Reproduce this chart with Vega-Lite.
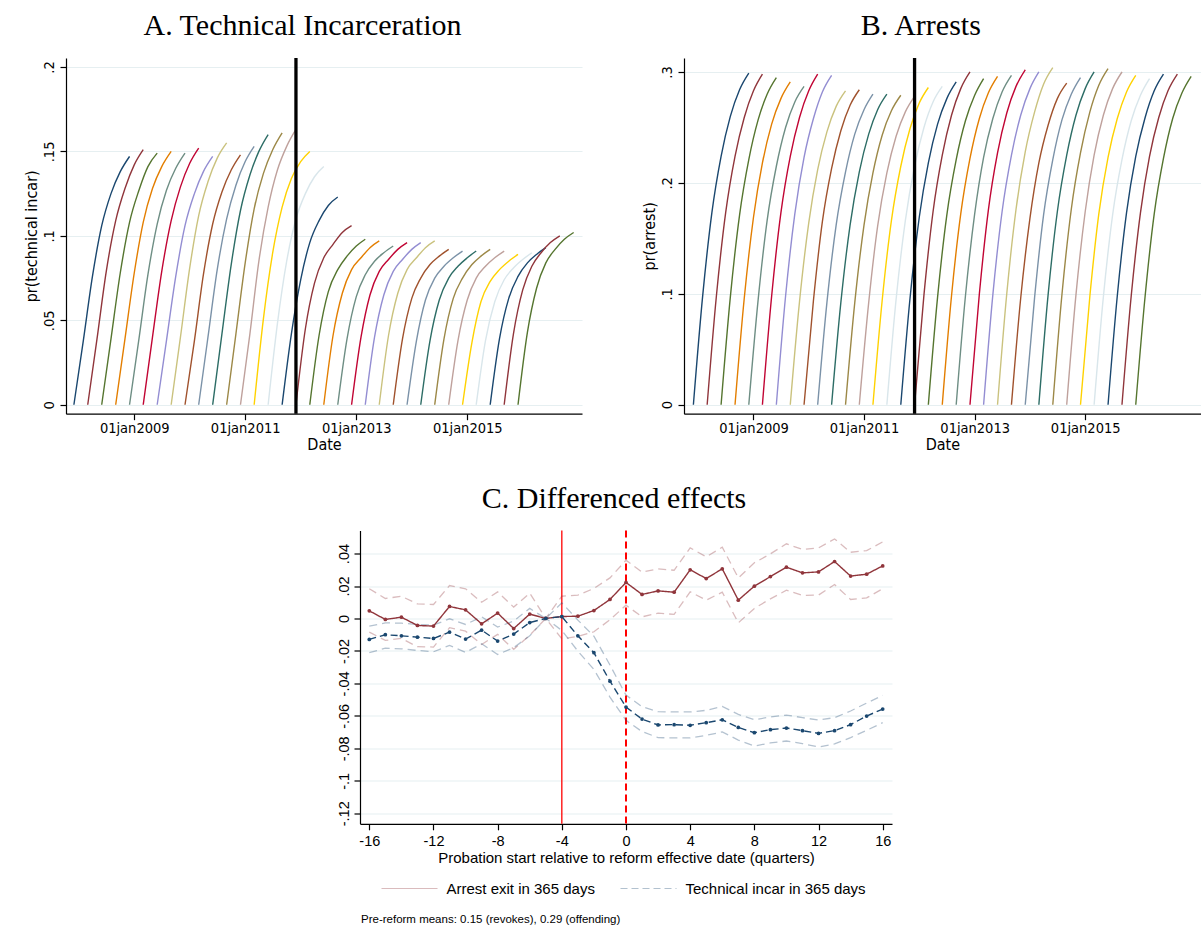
{
"$schema":"https://vega.github.io/schema/vega-lite/v6.json",
"background":"white",
"padding":{"left":23,"top":10,"right":0,"bottom":0},
"config":{
 "view":{"stroke":null},
 "axis":{"domainColor":"black","tickColor":"black","labelColor":"black","titleColor":"black","titleFontWeight":"normal","gridColor":"#e6eff1","gridWidth":1.2,"domainWidth":1.2,"tickWidth":1.2,"labelOverlap":false},
 "title":{"font":"Liberation Serif","fontSize":30,"fontWeight":"normal","color":"black","anchor":"middle","frame":"bounds"}
},
"datasets":{
"cur":[
{"c":0,"d":"2007/12/01","a":0,"b":0},{"c":0,"d":"2008/02/01","a":0.038,"b":0.099},{"c":0,"d":"2008/04/01","a":0.076,"b":0.173},{"c":0,"d":"2008/06/01","a":0.106,"b":0.224},{"c":0,"d":"2008/08/01","a":0.125,"b":0.260},{"c":0,"d":"2008/10/01","a":0.138,"b":0.284},{"c":0,"d":"2008/12/01","a":0.147,"b":0.299},
{"c":1,"d":"2008/03/01","a":0,"b":0},{"c":1,"d":"2008/05/01","a":0.039,"b":0.098},{"c":1,"d":"2008/07/01","a":0.079,"b":0.173},{"c":1,"d":"2008/09/01","a":0.109,"b":0.224},{"c":1,"d":"2008/11/01","a":0.128,"b":0.259},{"c":1,"d":"2009/01/01","a":0.142,"b":0.283},{"c":1,"d":"2009/03/01","a":0.151,"b":0.298},
{"c":2,"d":"2008/06/01","a":0,"b":0},{"c":2,"d":"2008/08/01","a":0.039,"b":0.097},{"c":2,"d":"2008/10/01","a":0.078,"b":0.171},{"c":2,"d":"2008/12/01","a":0.108,"b":0.221},{"c":2,"d":"2009/02/01","a":0.127,"b":0.257},{"c":2,"d":"2009/04/01","a":0.141,"b":0.280},{"c":2,"d":"2009/06/01","a":0.149,"b":0.295},
{"c":3,"d":"2008/09/01","a":0,"b":0},{"c":3,"d":"2008/11/01","a":0.039,"b":0.096},{"c":3,"d":"2009/01/01","a":0.078,"b":0.169},{"c":3,"d":"2009/03/01","a":0.108,"b":0.218},{"c":3,"d":"2009/05/01","a":0.128,"b":0.253},{"c":3,"d":"2009/07/01","a":0.141,"b":0.276},{"c":3,"d":"2009/09/01","a":0.150,"b":0.291},
{"c":4,"d":"2008/12/01","a":0,"b":0},{"c":4,"d":"2009/02/01","a":0.039,"b":0.095},{"c":4,"d":"2009/04/01","a":0.077,"b":0.166},{"c":4,"d":"2009/06/01","a":0.107,"b":0.215},{"c":4,"d":"2009/08/01","a":0.127,"b":0.250},{"c":4,"d":"2009/10/01","a":0.140,"b":0.273},{"c":4,"d":"2009/12/01","a":0.149,"b":0.287},
{"c":5,"d":"2009/03/01","a":0,"b":0},{"c":5,"d":"2009/05/01","a":0.040,"b":0.098},{"c":5,"d":"2009/07/01","a":0.079,"b":0.173},{"c":5,"d":"2009/09/01","a":0.109,"b":0.224},{"c":5,"d":"2009/11/01","a":0.129,"b":0.259},{"c":5,"d":"2010/01/01","a":0.143,"b":0.283},{"c":5,"d":"2010/03/01","a":0.152,"b":0.298},
{"c":6,"d":"2009/06/01","a":0,"b":0},{"c":6,"d":"2009/08/01","a":0.038,"b":0.098},{"c":6,"d":"2009/10/01","a":0.076,"b":0.172},{"c":6,"d":"2009/12/01","a":0.106,"b":0.223},{"c":6,"d":"2010/02/01","a":0.125,"b":0.258},{"c":6,"d":"2010/04/01","a":0.138,"b":0.282},{"c":6,"d":"2010/06/01","a":0.147,"b":0.297},
{"c":7,"d":"2009/09/01","a":0,"b":0},{"c":7,"d":"2009/11/01","a":0.040,"b":0.093},{"c":7,"d":"2010/01/01","a":0.081,"b":0.164},{"c":7,"d":"2010/03/01","a":0.112,"b":0.212},{"c":7,"d":"2010/05/01","a":0.132,"b":0.246},{"c":7,"d":"2010/07/01","a":0.146,"b":0.269},{"c":7,"d":"2010/09/01","a":0.155,"b":0.283},
{"c":8,"d":"2009/12/01","a":0,"b":0},{"c":8,"d":"2010/02/01","a":0.038,"b":0.094},{"c":8,"d":"2010/04/01","a":0.077,"b":0.165},{"c":8,"d":"2010/06/01","a":0.107,"b":0.213},{"c":8,"d":"2010/08/01","a":0.126,"b":0.247},{"c":8,"d":"2010/10/01","a":0.139,"b":0.270},{"c":8,"d":"2010/12/01","a":0.148,"b":0.284},
{"c":9,"d":"2010/03/01","a":0,"b":0},{"c":9,"d":"2010/05/01","a":0.040,"b":0.092},{"c":9,"d":"2010/07/01","a":0.080,"b":0.162},{"c":9,"d":"2010/09/01","a":0.110,"b":0.210},{"c":9,"d":"2010/11/01","a":0.130,"b":0.244},{"c":9,"d":"2011/01/01","a":0.144,"b":0.266},{"c":9,"d":"2011/03/01","a":0.153,"b":0.280},
{"c":10,"d":"2010/06/01","a":0,"b":0},{"c":10,"d":"2010/08/01","a":0.042,"b":0.092},{"c":10,"d":"2010/10/01","a":0.083,"b":0.162},{"c":10,"d":"2010/12/01","a":0.115,"b":0.210},{"c":10,"d":"2011/02/01","a":0.136,"b":0.244},{"c":10,"d":"2011/04/01","a":0.150,"b":0.266},{"c":10,"d":"2011/06/01","a":0.160,"b":0.280},
{"c":11,"d":"2010/09/01","a":0,"b":0},{"c":11,"d":"2010/11/01","a":0.042,"b":0.092},{"c":11,"d":"2011/01/01","a":0.084,"b":0.162},{"c":11,"d":"2011/03/01","a":0.116,"b":0.209},{"c":11,"d":"2011/05/01","a":0.137,"b":0.243},{"c":11,"d":"2011/07/01","a":0.151,"b":0.265},{"c":11,"d":"2011/09/01","a":0.161,"b":0.279},
{"c":12,"d":"2010/12/01","a":0,"b":0},{"c":12,"d":"2011/02/01","a":0.042,"b":0.092},{"c":12,"d":"2011/04/01","a":0.085,"b":0.161},{"c":12,"d":"2011/06/01","a":0.117,"b":0.209},{"c":12,"d":"2011/08/01","a":0.139,"b":0.242},{"c":12,"d":"2011/10/01","a":0.153,"b":0.264},{"c":12,"d":"2011/12/01","a":0.163,"b":0.278},
{"c":13,"d":"2011/03/01","a":0,"b":0},{"c":13,"d":"2011/05/01","a":0.051,"b":0.094},{"c":13,"d":"2011/07/01","a":0.090,"b":0.166},{"c":13,"d":"2011/09/01","a":0.117,"b":0.215},{"c":13,"d":"2011/11/01","a":0.134,"b":0.249},{"c":13,"d":"2012/01/01","a":0.144,"b":0.272},{"c":13,"d":"2012/03/01","a":0.150,"b":0.286},
{"c":14,"d":"2011/06/01","a":0,"b":0},{"c":14,"d":"2011/08/01","a":0.048,"b":0.095},{"c":14,"d":"2011/10/01","a":0.085,"b":0.166},{"c":14,"d":"2011/12/01","a":0.110,"b":0.215},{"c":14,"d":"2012/02/01","a":0.125,"b":0.250},{"c":14,"d":"2012/04/01","a":0.135,"b":0.273},{"c":14,"d":"2012/06/01","a":0.141,"b":0.287},
{"c":15,"d":"2011/09/01","a":0,"b":0},{"c":15,"d":"2011/11/01","a":0.042,"b":0.096},{"c":15,"d":"2012/01/01","a":0.074,"b":0.169},{"c":15,"d":"2012/03/01","a":0.096,"b":0.218},{"c":15,"d":"2012/05/01","a":0.109,"b":0.253},{"c":15,"d":"2012/07/01","a":0.118,"b":0.276},{"c":15,"d":"2012/09/01","a":0.123,"b":0.291},
{"c":16,"d":"2011/12/01","a":0,"b":0},{"c":16,"d":"2012/02/01","a":0.045,"b":0.099},{"c":16,"d":"2012/04/01","a":0.072,"b":0.174},{"c":16,"d":"2012/06/01","a":0.087,"b":0.225},{"c":16,"d":"2012/08/01","a":0.095,"b":0.261},{"c":16,"d":"2012/10/01","a":0.102,"b":0.285},{"c":16,"d":"2012/12/01","a":0.106,"b":0.300},
{"c":17,"d":"2012/03/01","a":0,"b":0},{"c":17,"d":"2012/05/01","a":0.041,"b":0.097},{"c":17,"d":"2012/07/01","a":0.067,"b":0.171},{"c":17,"d":"2012/09/01","a":0.080,"b":0.221},{"c":17,"d":"2012/11/01","a":0.088,"b":0.256},{"c":17,"d":"2013/01/01","a":0.094,"b":0.279},{"c":17,"d":"2013/03/01","a":0.098,"b":0.294},
{"c":18,"d":"2012/06/01","a":0,"b":0},{"c":18,"d":"2012/08/01","a":0.041,"b":0.098},{"c":18,"d":"2012/10/01","a":0.066,"b":0.172},{"c":18,"d":"2012/12/01","a":0.080,"b":0.222},{"c":18,"d":"2013/02/01","a":0.087,"b":0.258},{"c":18,"d":"2013/04/01","a":0.093,"b":0.281},{"c":18,"d":"2013/06/01","a":0.097,"b":0.296},
{"c":19,"d":"2012/09/01","a":0,"b":0},{"c":19,"d":"2012/11/01","a":0.039,"b":0.098},{"c":19,"d":"2013/01/01","a":0.064,"b":0.172},{"c":19,"d":"2013/03/01","a":0.077,"b":0.223},{"c":19,"d":"2013/05/01","a":0.085,"b":0.258},{"c":19,"d":"2013/07/01","a":0.090,"b":0.282},{"c":19,"d":"2013/09/01","a":0.094,"b":0.297},
{"c":20,"d":"2012/12/01","a":0,"b":0},{"c":20,"d":"2013/02/01","a":0.040,"b":0.100},{"c":20,"d":"2013/04/01","a":0.065,"b":0.175},{"c":20,"d":"2013/06/01","a":0.079,"b":0.227},{"c":20,"d":"2013/08/01","a":0.086,"b":0.263},{"c":20,"d":"2013/10/01","a":0.092,"b":0.287},{"c":20,"d":"2013/12/01","a":0.096,"b":0.302},
{"c":21,"d":"2013/03/01","a":0,"b":0},{"c":21,"d":"2013/05/01","a":0.040,"b":0.099},{"c":21,"d":"2013/07/01","a":0.065,"b":0.174},{"c":21,"d":"2013/09/01","a":0.079,"b":0.225},{"c":21,"d":"2013/11/01","a":0.086,"b":0.261},{"c":21,"d":"2014/01/01","a":0.092,"b":0.285},{"c":21,"d":"2014/03/01","a":0.096,"b":0.300},
{"c":22,"d":"2013/06/01","a":0,"b":0},{"c":22,"d":"2013/08/01","a":0.041,"b":0.100},{"c":22,"d":"2013/10/01","a":0.066,"b":0.176},{"c":22,"d":"2013/12/01","a":0.080,"b":0.228},{"c":22,"d":"2014/02/01","a":0.087,"b":0.264},{"c":22,"d":"2014/04/01","a":0.093,"b":0.289},{"c":22,"d":"2014/06/01","a":0.097,"b":0.304},
{"c":23,"d":"2013/09/01","a":0,"b":0},{"c":23,"d":"2013/11/01","a":0.039,"b":0.096},{"c":23,"d":"2014/01/01","a":0.063,"b":0.168},{"c":23,"d":"2014/03/01","a":0.075,"b":0.218},{"c":23,"d":"2014/05/01","a":0.083,"b":0.252},{"c":23,"d":"2014/07/01","a":0.088,"b":0.276},{"c":23,"d":"2014/09/01","a":0.092,"b":0.290},
{"c":24,"d":"2013/12/01","a":0,"b":0},{"c":24,"d":"2014/02/01","a":0.038,"b":0.097},{"c":24,"d":"2014/04/01","a":0.062,"b":0.171},{"c":24,"d":"2014/06/01","a":0.075,"b":0.221},{"c":24,"d":"2014/08/01","a":0.082,"b":0.257},{"c":24,"d":"2014/10/01","a":0.087,"b":0.280},{"c":24,"d":"2014/12/01","a":0.091,"b":0.295},
{"c":25,"d":"2014/03/01","a":0,"b":0},{"c":25,"d":"2014/05/01","a":0.038,"b":0.099},{"c":25,"d":"2014/07/01","a":0.062,"b":0.174},{"c":25,"d":"2014/09/01","a":0.075,"b":0.225},{"c":25,"d":"2014/11/01","a":0.082,"b":0.261},{"c":25,"d":"2015/01/01","a":0.087,"b":0.285},{"c":25,"d":"2015/03/01","a":0.091,"b":0.300},
{"c":26,"d":"2014/06/01","a":0,"b":0},{"c":26,"d":"2014/08/01","a":0.039,"b":0.100},{"c":26,"d":"2014/10/01","a":0.063,"b":0.176},{"c":26,"d":"2014/12/01","a":0.075,"b":0.227},{"c":26,"d":"2015/02/01","a":0.083,"b":0.264},{"c":26,"d":"2015/04/01","a":0.088,"b":0.288},{"c":26,"d":"2015/06/01","a":0.092,"b":0.303},
{"c":27,"d":"2014/09/01","a":0,"b":0},{"c":27,"d":"2014/11/01","a":0.038,"b":0.099},{"c":27,"d":"2015/01/01","a":0.062,"b":0.174},{"c":27,"d":"2015/03/01","a":0.075,"b":0.225},{"c":27,"d":"2015/05/01","a":0.082,"b":0.261},{"c":27,"d":"2015/07/01","a":0.087,"b":0.285},{"c":27,"d":"2015/09/01","a":0.091,"b":0.300},
{"c":28,"d":"2014/12/01","a":0,"b":0},{"c":28,"d":"2015/02/01","a":0.037,"b":0.098},{"c":28,"d":"2015/04/01","a":0.061,"b":0.172},{"c":28,"d":"2015/06/01","a":0.073,"b":0.223},{"c":28,"d":"2015/08/01","a":0.080,"b":0.258},{"c":28,"d":"2015/10/01","a":0.085,"b":0.282},{"c":28,"d":"2015/12/01","a":0.089,"b":0.297},
{"c":29,"d":"2015/03/01","a":0,"b":0},{"c":29,"d":"2015/05/01","a":0.038,"b":0.097},{"c":29,"d":"2015/07/01","a":0.061,"b":0.171},{"c":29,"d":"2015/09/01","a":0.074,"b":0.221},{"c":29,"d":"2015/11/01","a":0.081,"b":0.256},{"c":29,"d":"2016/01/01","a":0.086,"b":0.279},{"c":29,"d":"2016/03/01","a":0.090,"b":0.294},
{"c":30,"d":"2015/06/01","a":0,"b":0},{"c":30,"d":"2015/08/01","a":0.039,"b":0.098},{"c":30,"d":"2015/10/01","a":0.063,"b":0.173},{"c":30,"d":"2015/12/01","a":0.076,"b":0.224},{"c":30,"d":"2016/02/01","a":0.084,"b":0.259},{"c":30,"d":"2016/04/01","a":0.089,"b":0.283},{"c":30,"d":"2016/06/01","a":0.093,"b":0.298},
{"c":31,"d":"2015/09/01","a":0,"b":0},{"c":31,"d":"2015/11/01","a":0.042,"b":0.098},{"c":31,"d":"2016/01/01","a":0.068,"b":0.173},{"c":31,"d":"2016/03/01","a":0.082,"b":0.224},{"c":31,"d":"2016/05/01","a":0.090,"b":0.259},{"c":31,"d":"2016/07/01","a":0.096,"b":0.283},{"c":31,"d":"2016/09/01","a":0.100,"b":0.298},
{"c":32,"d":"2015/12/01","a":0,"b":0},{"c":32,"d":"2016/02/01","a":0.043,"b":0.098},{"c":32,"d":"2016/04/01","a":0.069,"b":0.172},{"c":32,"d":"2016/06/01","a":0.084,"b":0.222},{"c":32,"d":"2016/08/01","a":0.092,"b":0.258},{"c":32,"d":"2016/10/01","a":0.098,"b":0.281},{"c":32,"d":"2016/12/01","a":0.102,"b":0.296}
],
"diff":[
{"q":-16,"s":"Arrest exit in 365 days","est":0.0047,"lo":-0.0084,"hi":0.0183},
{"q":-15,"s":"Arrest exit in 365 days","est":-0.0006,"lo":-0.0135,"hi":0.0123},
{"q":-14,"s":"Arrest exit in 365 days","est":0.0008,"lo":-0.0123,"hi":0.0137},
{"q":-13,"s":"Arrest exit in 365 days","est":-0.0043,"lo":-0.0174,"hi":0.0090},
{"q":-12,"s":"Arrest exit in 365 days","est":-0.0047,"lo":-0.0176,"hi":0.0086},
{"q":-11,"s":"Arrest exit in 365 days","est":0.0074,"lo":-0.0057,"hi":0.0203},
{"q":-10,"s":"Arrest exit in 365 days","est":0.0053,"lo":-0.0078,"hi":0.0183},
{"q":-9,"s":"Arrest exit in 365 days","est":-0.0033,"lo":-0.0160,"hi":0.0100},
{"q":-8,"s":"Arrest exit in 365 days","est":0.0033,"lo":-0.0098,"hi":0.0164},
{"q":-7,"s":"Arrest exit in 365 days","est":-0.0062,"lo":-0.0190,"hi":0.0070},
{"q":-6,"s":"Arrest exit in 365 days","est":0.0027,"lo":-0.0103,"hi":0.0156},
{"q":-5,"s":"Arrest exit in 365 days","est":0,"lo":0,"hi":0},
{"q":-4,"s":"Arrest exit in 365 days","est":0.0012,"lo":-0.0125,"hi":0.0137},
{"q":-3,"s":"Arrest exit in 365 days","est":0.0014,"lo":-0.0111,"hi":0.0144},
{"q":-2,"s":"Arrest exit in 365 days","est":0.0049,"lo":-0.0082,"hi":0.0185},
{"q":-1,"s":"Arrest exit in 365 days","est":0.0117,"lo":-0.0008,"hi":0.0250},
{"q":0,"s":"Arrest exit in 365 days","est":0.0222,"lo":0.0082,"hi":0.0359},
{"q":1,"s":"Arrest exit in 365 days","est":0.0148,"lo":0.0010,"hi":0.0285},
{"q":2,"s":"Arrest exit in 365 days","est":0.0170,"lo":0.0033,"hi":0.0306},
{"q":3,"s":"Arrest exit in 365 days","est":0.0162,"lo":0.0025,"hi":0.0297},
{"q":4,"s":"Arrest exit in 365 days","est":0.0300,"lo":0.0164,"hi":0.0435},
{"q":5,"s":"Arrest exit in 365 days","est":0.0246,"lo":0.0113,"hi":0.0380},
{"q":6,"s":"Arrest exit in 365 days","est":0.0306,"lo":0.0162,"hi":0.0439},
{"q":7,"s":"Arrest exit in 365 days","est":0.0113,"lo":-0.0027,"hi":0.0250},
{"q":8,"s":"Arrest exit in 365 days","est":0.0199,"lo":0.0062,"hi":0.0343},
{"q":9,"s":"Arrest exit in 365 days","est":0.0258,"lo":0.0121,"hi":0.0398},
{"q":10,"s":"Arrest exit in 365 days","est":0.0316,"lo":0.0174,"hi":0.0460},
{"q":11,"s":"Arrest exit in 365 days","est":0.0281,"lo":0.0142,"hi":0.0425},
{"q":12,"s":"Arrest exit in 365 days","est":0.0287,"lo":0.0144,"hi":0.0435},
{"q":13,"s":"Arrest exit in 365 days","est":0.0351,"lo":0.0209,"hi":0.0490},
{"q":14,"s":"Arrest exit in 365 days","est":0.0261,"lo":0.0117,"hi":0.0408},
{"q":15,"s":"Arrest exit in 365 days","est":0.0273,"lo":0.0127,"hi":0.0418},
{"q":16,"s":"Arrest exit in 365 days","est":0.0324,"lo":0.0183,"hi":0.0472},
{"q":-16,"s":"Technical incar in 365 days","est":-0.0129,"lo":-0.0211,"hi":-0.0047},
{"q":-15,"s":"Technical incar in 365 days","est":-0.0100,"lo":-0.0183,"hi":-0.0027},
{"q":-14,"s":"Technical incar in 365 days","est":-0.0107,"lo":-0.0187,"hi":-0.0029},
{"q":-13,"s":"Technical incar in 365 days","est":-0.0115,"lo":-0.0197,"hi":-0.0037},
{"q":-12,"s":"Technical incar in 365 days","est":-0.0123,"lo":-0.0205,"hi":-0.0041},
{"q":-11,"s":"Technical incar in 365 days","est":-0.0084,"lo":-0.0166,"hi":-0.0002},
{"q":-10,"s":"Technical incar in 365 days","est":-0.0127,"lo":-0.0209,"hi":-0.0037},
{"q":-9,"s":"Technical incar in 365 days","est":-0.0072,"lo":-0.0156,"hi":0.0010},
{"q":-8,"s":"Technical incar in 365 days","est":-0.0139,"lo":-0.0222,"hi":-0.0053},
{"q":-7,"s":"Technical incar in 365 days","est":-0.0096,"lo":-0.0180,"hi":-0.0016},
{"q":-6,"s":"Technical incar in 365 days","est":-0.0025,"lo":-0.0107,"hi":0.0062},
{"q":-5,"s":"Technical incar in 365 days","est":0,"lo":0,"hi":0},
{"q":-4,"s":"Technical incar in 365 days","est":0.0012,"lo":-0.0074,"hi":0.0096},
{"q":-3,"s":"Technical incar in 365 days","est":-0.0107,"lo":-0.0201,"hi":-0.0010},
{"q":-2,"s":"Technical incar in 365 days","est":-0.0211,"lo":-0.0314,"hi":-0.0109},
{"q":-1,"s":"Technical incar in 365 days","est":-0.0386,"lo":-0.0484,"hi":-0.0287},
{"q":0,"s":"Technical incar in 365 days","est":-0.0546,"lo":-0.0628,"hi":-0.0472},
{"q":1,"s":"Technical incar in 365 days","est":-0.0620,"lo":-0.0697,"hi":-0.0544},
{"q":2,"s":"Technical incar in 365 days","est":-0.0656,"lo":-0.0734,"hi":-0.0574},
{"q":3,"s":"Technical incar in 365 days","est":-0.0654,"lo":-0.0736,"hi":-0.0576},
{"q":4,"s":"Technical incar in 365 days","est":-0.0658,"lo":-0.0736,"hi":-0.0576},
{"q":5,"s":"Technical incar in 365 days","est":-0.0642,"lo":-0.0720,"hi":-0.0566},
{"q":6,"s":"Technical incar in 365 days","est":-0.0624,"lo":-0.0699,"hi":-0.0542},
{"q":7,"s":"Technical incar in 365 days","est":-0.0671,"lo":-0.0749,"hi":-0.0591},
{"q":8,"s":"Technical incar in 365 days","est":-0.0704,"lo":-0.0786,"hi":-0.0624},
{"q":9,"s":"Technical incar in 365 days","est":-0.0685,"lo":-0.0767,"hi":-0.0607},
{"q":10,"s":"Technical incar in 365 days","est":-0.0675,"lo":-0.0755,"hi":-0.0595},
{"q":11,"s":"Technical incar in 365 days","est":-0.0691,"lo":-0.0771,"hi":-0.0611},
{"q":12,"s":"Technical incar in 365 days","est":-0.0708,"lo":-0.0792,"hi":-0.0626},
{"q":13,"s":"Technical incar in 365 days","est":-0.0691,"lo":-0.0773,"hi":-0.0611},
{"q":14,"s":"Technical incar in 365 days","est":-0.0654,"lo":-0.0734,"hi":-0.0570},
{"q":15,"s":"Technical incar in 365 days","est":-0.0601,"lo":-0.0689,"hi":-0.0521},
{"q":16,"s":"Technical incar in 365 days","est":-0.0558,"lo":-0.0642,"hi":-0.0474}
]
},
"vconcat":[
{"hconcat":[
 {"width":516,"height":355.7,
  "title":{"text":"A. Technical Incarceration","offset":15.5},
  "layer":[
   {"data":{"name":"cur"},
    "mark":{"type":"line","strokeWidth":1.4,"interpolate":"monotone"},
    "encoding":{
     "x":{"field":"d","type":"temporal","scale":{"domain":[{"year":2007,"month":10,"date":10},{"year":2017,"month":1,"date":25}]},
      "axis":{"title":"Date","values":[{"year":2009,"month":1,"date":1},{"year":2011,"month":1,"date":1},{"year":2013,"month":1,"date":1},{"year":2015,"month":1,"date":1}],"labelExpr":"lower(timeFormat(datum.value,'%d%b%Y'))","labelFont":"DejaVu Sans Condensed","labelFontSize":14.5,"titleFont":"DejaVu Sans Condensed","titleFontSize":16,"tickSize":6,"labelPadding":2,"titlePadding":1,"grid":false,"labelFlush":false,"labelOverlap":false}},
     "y":{"field":"a","type":"quantitative","scale":{"domain":[-0.0053,0.2053],"nice":false,"zero":false},
      "axis":{"title":"pr(technical incar)","values":[0,0.05,0.1,0.15,0.2],"labelExpr":"replace(toString(datum.value),'0.','.')","labelAngle":-90,"labelAlign":"center","labelBaseline":"bottom","labelFont":"DejaVu Sans Condensed","labelFontSize":14.5,"titleFont":"DejaVu Sans Condensed","titleFontSize":16,"tickSize":6,"labelPadding":4,"titlePadding":2,"grid":true,"labelOverlap":false}},
     "color":{"field":"c","type":"nominal","scale":{"domain":[0,1,2,3,4,5,6,7,8,9,10,11,12,13,14,15,16,17,18,19,20,21,22,23,24,25,26,27,28,29,30,31,32],"range":["#1a476f","#90353b","#55752f","#e37e00","#6e8e84","#c10534","#938dd2","#cac27e","#a0522d","#7b92a8","#2d6d66","#9c8847","#bfa19c","#ffd200","#d9e6eb","#1a476f","#90353b","#55752f","#e37e00","#6e8e84","#c10534","#938dd2","#cac27e","#a0522d","#7b92a8","#2d6d66","#9c8847","#bfa19c","#ffd200","#d9e6eb","#1a476f","#90353b","#55752f"]},"legend":null}
    }},
   {"data":{"values":[{"d":"2011/12/01"}]},
    "mark":{"type":"rule","color":"black","strokeWidth":3.3},
    "encoding":{"x":{"field":"d","type":"temporal"}}}
  ]},
 {"width":516.7,"height":355.7,
  "title":{"text":"B. Arrests","offset":15.5},
  "layer":[
   {"data":{"name":"cur"},
    "mark":{"type":"line","strokeWidth":1.4,"interpolate":"monotone"},
    "encoding":{
     "x":{"field":"d","type":"temporal","scale":{"domain":[{"year":2007,"month":9,"date":30},{"year":2017,"month":2,"date":2}]},
      "axis":{"title":"Date","values":[{"year":2009,"month":1,"date":1},{"year":2011,"month":1,"date":1},{"year":2013,"month":1,"date":1},{"year":2015,"month":1,"date":1}],"labelExpr":"lower(timeFormat(datum.value,'%d%b%Y'))","labelFont":"DejaVu Sans Condensed","labelFontSize":14.5,"titleFont":"DejaVu Sans Condensed","titleFontSize":16,"tickSize":6,"labelPadding":2,"titlePadding":1,"grid":false,"labelFlush":false,"labelOverlap":false}},
     "y":{"field":"b","type":"quantitative","scale":{"domain":[-0.0081,0.3126],"nice":false,"zero":false},
      "axis":{"title":"pr(arrest)","values":[0,0.1,0.2,0.3],"labelExpr":"replace(toString(datum.value),'0.','.')","labelAngle":-90,"labelAlign":"center","labelBaseline":"bottom","labelFont":"DejaVu Sans Condensed","labelFontSize":14.5,"titleFont":"DejaVu Sans Condensed","titleFontSize":16,"tickSize":6,"labelPadding":4,"titlePadding":2,"grid":true,"labelOverlap":false}},
     "color":{"field":"c","type":"nominal","scale":{"domain":[0,1,2,3,4,5,6,7,8,9,10,11,12,13,14,15,16,17,18,19,20,21,22,23,24,25,26,27,28,29,30,31,32],"range":["#1a476f","#90353b","#55752f","#e37e00","#6e8e84","#c10534","#938dd2","#cac27e","#a0522d","#7b92a8","#2d6d66","#9c8847","#bfa19c","#ffd200","#d9e6eb","#1a476f","#90353b","#55752f","#e37e00","#6e8e84","#c10534","#938dd2","#cac27e","#a0522d","#7b92a8","#2d6d66","#9c8847","#bfa19c","#ffd200","#d9e6eb","#1a476f","#90353b","#55752f"]},"legend":null}
    }},
   {"data":{"values":[{"d":"2011/12/01"}]},
    "mark":{"type":"rule","color":"black","strokeWidth":3.3},
    "encoding":{"x":{"field":"d","type":"temporal"}}}
  ]}
 ],"spacing":102,"bounds":"flush"},
{"hconcat":[
 {"width":293.7,"height":293.3,"data":{"values":[]},"mark":"point"},
 {"width":532,"height":293.3,
  "title":{"text":"C. Differenced effects","offset":15.5},
  "data":{"name":"diff"},
  "layer":[
   {"data":{"values":[{"q":-4}]},"mark":{"type":"rule","color":"#ff0000","strokeWidth":1.3},
    "encoding":{"x":{"field":"q","type":"quantitative","scale":{"domain":[-16.58,16.58],"nice":false,"zero":false},"axis":{"title":"Probation start relative to reform effective date (quarters)","values":[-16,-12,-8,-4,0,4,8,12,16],"labelExpr":"toString(datum.value)","labelFont":"Liberation Sans","labelFontSize":14.5,"titleFont":"Liberation Sans","titleFontSize":15,"tickSize":6,"labelPadding":5,"titlePadding":2,"grid":false,"labelFlush":false,"labelOverlap":false}}}},
   {"data":{"values":[{"q":0}]},"mark":{"type":"rule","color":"#ff0000","strokeWidth":2,"strokeDash":[7,4]},
    "encoding":{"x":{"field":"q","type":"quantitative"}}},
   {"mark":{"type":"line","strokeWidth":1.3,"strokeDash":[8,5],"opacity":0.33},
    "encoding":{"x":{"field":"q","type":"quantitative"},
     "y":{"field":"lo","type":"quantitative","scale":{"domain":[-0.1265,0.0542],"nice":false,"zero":false},"axis":{"title":null,"values":[-0.12,-0.1,-0.08,-0.06,-0.04,-0.02,0,0.02,0.04],"labelExpr":"replace(toString(datum.value),'0.','.')","labelAngle":-90,"labelAlign":"center","labelBaseline":"bottom","labelFont":"Liberation Sans","labelFontSize":14.5,"tickSize":6,"labelPadding":3,"grid":true,"labelOverlap":false,"labelBound":false}},
     "color":{"field":"s","type":"nominal"}}},
   {"mark":{"type":"line","strokeWidth":1.3,"strokeDash":[8,5],"opacity":0.33},
    "encoding":{"x":{"field":"q","type":"quantitative"},"y":{"field":"hi","type":"quantitative","axis":{"title":null,"values":[-0.12,-0.1,-0.08,-0.06,-0.04,-0.02,0,0.02,0.04],"labelExpr":"replace(toString(datum.value),'0.','.')","labelAngle":-90,"labelAlign":"center","labelBaseline":"bottom","labelFont":"Liberation Sans","labelFontSize":14.5,"tickSize":6,"labelPadding":3,"grid":true,"labelOverlap":false,"labelBound":false}},"color":{"field":"s","type":"nominal"}}},
   {"mark":{"type":"line","strokeWidth":1.4},
    "encoding":{"x":{"field":"q","type":"quantitative"},"y":{"field":"est","type":"quantitative","axis":{"title":null,"values":[-0.12,-0.1,-0.08,-0.06,-0.04,-0.02,0,0.02,0.04],"labelExpr":"replace(toString(datum.value),'0.','.')","labelAngle":-90,"labelAlign":"center","labelBaseline":"bottom","labelFont":"Liberation Sans","labelFontSize":14.5,"tickSize":6,"labelPadding":3,"grid":true,"labelOverlap":false,"labelBound":false}},
     "color":{"field":"s","type":"nominal","scale":{"domain":["Arrest exit in 365 days","Technical incar in 365 days"],"range":["#90353b","#1a476f"]},
      "legend":{"orient":"none","legendX":314.5,"legendY":329,"direction":"horizontal","title":null,"symbolType":"stroke","symbolSize":3136,"symbolStrokeWidth":1.2,"symbolOpacity":1,"labelFont":"Liberation Sans","labelFontSize":15,"labelColor":"black","labelLimit":400,"gridAlign":"none","columnPadding":22,"labelOffset":8}},
     "strokeDash":{"field":"s","type":"nominal","scale":{"domain":["Arrest exit in 365 days","Technical incar in 365 days"],"range":[[1,0],[7,4]]}}}},
   {"mark":{"type":"point","filled":true,"size":14,"opacity":1},
    "encoding":{"x":{"field":"q","type":"quantitative"},"y":{"field":"est","type":"quantitative","axis":{"title":null,"values":[-0.12,-0.1,-0.08,-0.06,-0.04,-0.02,0,0.02,0.04],"labelExpr":"replace(toString(datum.value),'0.','.')","labelAngle":-90,"labelAlign":"center","labelBaseline":"bottom","labelFont":"Liberation Sans","labelFontSize":14.5,"tickSize":6,"labelPadding":3,"grid":true,"labelOverlap":false,"labelBound":false}},"color":{"field":"s","type":"nominal"}}}
  ]}
 ],"spacing":0,"bounds":"flush",
 "title":{"text":"Pre-reform means: 0.15 (revokes), 0.29 (offending)","orient":"bottom","anchor":"start","frame":"group","font":"Liberation Sans","fontSize":11.5,"fontWeight":"normal","color":"black","dx":295,"offset":17}}
],
"spacing":30.5,
"resolve":{"scale":{"color":"independent","strokeDash":"independent"},"legend":{"color":"independent","strokeDash":"independent"}}
}
